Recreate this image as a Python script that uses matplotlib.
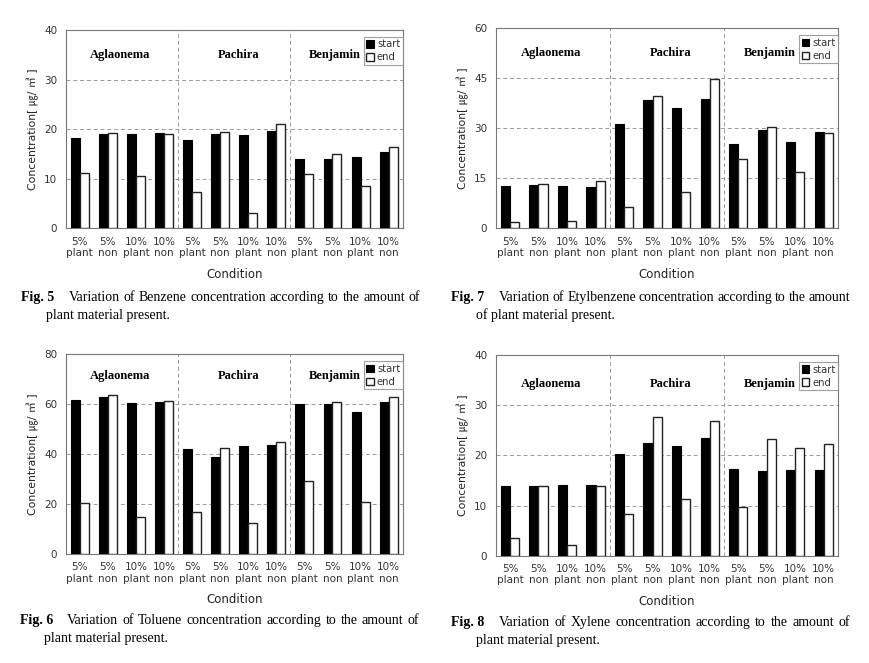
import matplotlib
matplotlib.use('Agg')
import matplotlib.pyplot as plt
import numpy as np

# categories along x
conditions = ["5%\nplant", "5%\nnon", "10%\nplant", "10%\nnon"] * 3
plants = ["Aglaonema", "Pachira", "Benjamin"]

# Fig. 5 Benzene
benzene_start = [18.2, 19.0, 19.0, 19.3, 17.9, 19.0, 18.8, 19.6, 14.0, 13.9, 14.3, 15.3]
benzene_end = [11.2, 19.2, 10.5, 19.0, 7.4, 19.4, 3.0, 21.0, 10.9, 14.9, 8.6, 16.3]

# Fig. 7 Etylbenzene
ethyl_start = [12.7, 13.0, 12.8, 12.4, 31.3, 38.5, 36.0, 38.9, 25.3, 29.4, 25.9, 28.8]
ethyl_end = [1.9, 13.3, 2.1, 14.3, 6.3, 39.6, 10.8, 44.9, 20.7, 30.5, 17.0, 28.7]

# Fig. 6 Toluene
toluene_start = [61.8, 63.0, 60.5, 61.0, 41.9, 38.7, 43.1, 43.7, 60.1, 60.1, 56.9, 61.0]
toluene_end = [20.3, 63.5, 14.8, 61.1, 16.7, 42.6, 12.3, 44.9, 29.4, 60.7, 20.7, 63.0]

# Fig. 8 Xylene
xylene_start = [13.9, 13.8, 14.0, 14.0, 20.2, 22.4, 21.8, 23.5, 17.3, 16.9, 17.0, 17.0]
xylene_end = [3.5, 13.9, 2.2, 13.8, 8.3, 27.6, 11.3, 26.9, 9.8, 23.3, 21.5, 22.3]

W, H = 870, 663
fig = plt.figure(figsize=(W / 100, H / 100), dpi=100)

sans = ['DejaVu Sans', 'Noto Sans CJK KR']
serif = 'Liberation Serif'


def px_axes(x0, y0, x1, y1):
    return fig.add_axes([x0 / W, 1 - y1 / H, (x1 - x0) / W, (y1 - y0) / H])


def justify(text_bold, rest, x_bold, x_rest, x_end, y, x2, y2, line2):
    # caption line 1 is justified between x_rest and x_end (y = baseline px)
    r = fig.canvas.get_renderer()
    fig.text(x_bold / W, 1 - y / H, text_bold, fontsize=10, family=serif,
             weight='bold', va='baseline')
    words = rest.split()
    objs = [fig.text(0, 1 - y / H, w_, fontsize=10, family=serif, va='baseline')
            for w_ in words]
    widths = [o.get_window_extent(r).width for o in objs]
    gap = (x_end - x_rest - sum(widths)) / (len(words) - 1)
    x = x_rest
    for o, wd in zip(objs, widths):
        o.set_x(x / W)
        x += wd + gap
    fig.text(x2 / W, 1 - y2 / H, line2, fontsize=10, family=serif,
             va='baseline')


def panel(box, start, end, ymax, yticks, grp_y):
    ax = px_axes(*box)
    x = np.arange(len(conditions))
    w = 0.32
    ax.bar(x - w / 2, start, w, color='black', edgecolor='black', lw=0.8,
           label='start', zorder=3)
    ax.bar(x + w / 2, end, w, color='white', edgecolor='#222222', lw=1.0,
           label='end', zorder=3)
    ax.set_xlim(-0.5, len(conditions) - 0.5)
    ax.set_ylim(0, ymax)
    ax.set_yticks(yticks)
    ax.set_xticks(x)
    ax.set_xticklabels(conditions, fontsize=7.5, color='#333333',
                       linespacing=1.15)
    ax.tick_params(axis='both', length=0, pad=6, labelsize=7.5,
                   labelcolor='#333333')
    for t in yticks[1:-1]:
        ax.axhline(t, color='#999999', ls=(0, (4, 3)), lw=0.7, zorder=1)
    for xv in (3.5, 7.5):
        ax.axvline(xv, color='#999999', ls=(0, (4, 3)), lw=0.7, zorder=1)
    for s in ax.spines.values():
        s.set_color('#777777')
        s.set_linewidth(0.8)
    ax.set_ylabel('Concentration[ ㎍/ ㎥ ]', family=sans, fontsize=7.8,
                  color='#222222', labelpad=4)
    ax.set_xlabel('Condition', fontsize=8.5, color='#222222', labelpad=7)
    for name, gx in zip(plants, (1.43, 5.64, 9.09)):
        ax.text(gx, grp_y, name, transform=ax.get_xaxis_transform(),
                ha='center', va='center', family=serif, weight='bold',
                fontsize=9)
    leg = ax.legend(loc='upper right', bbox_to_anchor=(1.0, 0.965),
                    fontsize=7.2, frameon=True, fancybox=False,
                    handlelength=0.75, handleheight=0.75, handletextpad=0.3,
                    borderpad=0.25, labelspacing=0.3, borderaxespad=0)
    leg.get_frame().set_edgecolor('#888888')
    leg.get_frame().set_linewidth(0.8)
    for t in leg.get_texts():
        t.set_color('#333333')
    return ax


panel((65.7, 30, 402.7, 228.3), benzene_start, benzene_end, 40,
      [0, 10, 20, 30, 40], 0.875)
panel((495.7, 28.3, 838, 228.3), ethyl_start, ethyl_end, 60,
      [0, 15, 30, 45, 60], 0.875)
panel((65.7, 354.3, 402.7, 554), toluene_start, toluene_end, 80,
      [0, 20, 40, 60, 80], 0.893)
panel((495.7, 355, 838, 555.7), xylene_start, xylene_end, 40,
      [0, 10, 20, 30, 40], 0.855)

justify('Fig. 5', 'Variation of Benzene concentration according to the amount of',
        21.5, 69, 420, 301, 46, 319, 'plant material present.')
justify('Fig. 7', 'Variation of Etylbenzene concentration according to the amount',
        451.5, 499, 850, 301, 476, 319, 'of plant material present.')
justify('Fig. 6', 'Variation of Toluene concentration according to the amount of',
        20, 67, 419, 624, 44, 642, 'plant material present.')
justify('Fig. 8', 'Variation of Xylene concentration according to the amount of',
        451.5, 499, 850, 626, 476, 644, 'plant material present.')

fig.savefig('out.png', dpi=100)
